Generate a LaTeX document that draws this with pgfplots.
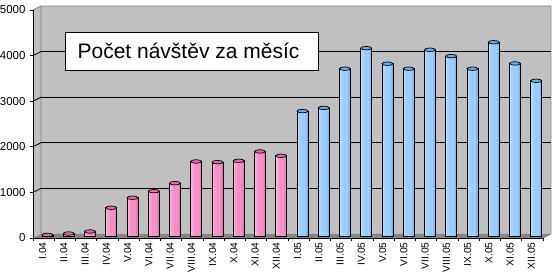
\documentclass[border=0pt]{standalone}
\usepackage{fontspec}
\setmainfont{Liberation Sans}
\usepackage{pgfplots}
\pgfplotsset{compat=1.18}
\definecolor{wall}{HTML}{C0C0C0}
\definecolor{floorc}{HTML}{858585}
\definecolor{edge}{HTML}{808080}
\definecolor{pinkL}{HTML}{F9B6DA}
\definecolor{pinkM}{HTML}{F590C6}
\definecolor{pinkD}{HTML}{D866A0}
\definecolor{pinkT}{HTML}{E06FA9}
\definecolor{blueL}{HTML}{B8DCFF}
\definecolor{blueM}{HTML}{99CCFF}
\definecolor{blueD}{HTML}{6A9FDD}
\definecolor{blueT}{HTML}{73A8E6}
\pgfdeclarehorizontalshading{pinkcyl}{100bp}{color(0bp)=(pinkL); color(25bp)=(pinkL); color(42bp)=(pinkM); color(62bp)=(pinkM); color(75bp)=(pinkD); color(100bp)=(pinkD)}
\pgfdeclarehorizontalshading{bluecyl}{100bp}{color(0bp)=(blueL); color(25bp)=(blueL); color(42bp)=(blueM); color(62bp)=(blueM); color(75bp)=(blueD); color(100bp)=(blueD)}
\pgfplotsset{
  cyl/.style={ybar, bar width=11pt, bar shift=0pt, draw=black, line width=0.8pt, yshift=1.5pt},
  captop/.style={only marks, mark=*, mark size=5.5pt, yshift=1.5pt, mark options={yscale=0.32, fill=#1, draw=black, line width=0.7pt}},
}
\newcommand{\pbar}[2]{\addplot[cyl, shading=pinkcyl] coordinates {(#1,#2)};}
\newcommand{\bbar}[2]{\addplot[cyl, shading=bluecyl] coordinates {(#1,#2)};}
\begin{document}
\begin{tikzpicture}
\useasboundingbox (-33pt,-34pt) rectangle (523pt,238pt);
\fill[white] (-33pt,-34pt) rectangle (523pt,238pt);
% back wall
\fill[wall] (8pt,4pt) rectangle (518pt,232pt);
% left wall
\fill[wall] (0pt,0pt) -- (8pt,4pt) -- (8pt,232pt) -- (0pt,228pt) -- cycle;
% floor
\fill[floorc] (0pt,0pt) -- (510pt,0pt) -- (518pt,4pt) -- (8pt,4pt) -- cycle;
\draw[edge, line width=0.8pt] (8pt,4pt) -- (8pt,232pt) -- (518pt,232pt) -- (518pt,4pt) -- (510pt,0pt);
\draw[edge, line width=0.8pt] (0pt,228pt) -- (8pt,232pt);
% side-wall grid diagonals
\foreach \yy in {45.6,91.2,136.8,182.4} {
  \draw[black, line width=0.8pt] (0pt,\yy pt) -- ++(8pt,4pt);
}
\begin{axis}[
  at={(0pt,0pt)}, anchor=south west,
  scale only axis, width=510pt, height=228pt,
  xmin=0, xmax=24, ymin=0, ymax=5000,
  axis lines*=left,
  axis line style={black, line width=0.8pt},
  tick align=outside,
  major tick length=3.5pt,
  tick style={black, line width=0.8pt},
  xtick={0,1,...,24},
  xticklabels={,,},
  extra x ticks={0.5,1.5,2.5,3.5,4.5,5.5,6.5,7.5,8.5,9.5,10.5,11.5,12.5,13.5,14.5,15.5,16.5,17.5,18.5,19.5,20.5,21.5,22.5,23.5},
  extra x tick labels={I.04,II.04,III.04,IV.04,V.04,VI.04,VII.04,VIII.04,IX.04,X.04,XI.04,XII.04,I.05,II.05,III.05,IV.05,V.05,VI.05,VII.05,VIII.05,IX.05,X.05,XI.05,XII.05},
  extra x tick style={major tick length=0pt,
    xticklabel style={rotate=90, anchor=east, font=\fontsize{10.2}{10.2}\selectfont, xshift=-1pt, yshift=1pt}},
  ytick={1000,2000,3000,4000},
  extra y ticks={0,5000},
  extra y tick style={grid=none},
  ymajorgrids,
  major grid style={black, line width=0.8pt, xshift=8pt, yshift=4pt},
  yticklabel style={font=\fontsize{11.5}{11.5}\selectfont, xshift=-0.5pt},
  /pgf/number format/1000 sep={},
  /pgf/number format/assume math mode=true,
  clip=false,
]
\pbar{0.68}{35}
\pbar{1.68}{65}
\pbar{2.68}{110}
\pbar{3.68}{630}
\pbar{4.68}{850}
\pbar{5.68}{995}
\pbar{6.68}{1170}
\pbar{7.68}{1645}
\pbar{8.68}{1630}
\pbar{9.68}{1660}
\pbar{10.68}{1865}
\pbar{11.68}{1770}
\bbar{12.68}{2750}
\bbar{13.68}{2820}
\bbar{14.68}{3680}
\bbar{15.68}{4130}
\bbar{16.68}{3790}
\bbar{17.68}{3680}
\bbar{18.68}{4095}
\bbar{19.68}{3955}
\bbar{20.68}{3680}
\bbar{21.68}{4260}
\bbar{22.68}{3795}
\bbar{23.68}{3415}
\addplot[captop=pinkT] coordinates {
(0.68,35) (1.68,65) (2.68,110) (3.68,630) (4.68,850) (5.68,995) (6.68,1170) (7.68,1645) (8.68,1630) (9.68,1660) (10.68,1865) (11.68,1770)};
\addplot[captop=blueT] coordinates {
(12.68,2750) (13.68,2820) (14.68,3680) (15.68,4130) (16.68,3790) (17.68,3680) (18.68,4095) (19.68,3955) (20.68,3680) (21.68,4260) (22.68,3795) (23.68,3415)};
\end{axis}
\node[draw=black, line width=0.8pt, fill=white, minimum height=38pt, inner xsep=0pt, inner ysep=0pt,
  font=\fontsize{21}{21}\selectfont] at (159pt,187pt) {\hspace*{12pt}Počet návštěv za měsíc\hspace*{19pt}};
\end{tikzpicture}
\end{document}
